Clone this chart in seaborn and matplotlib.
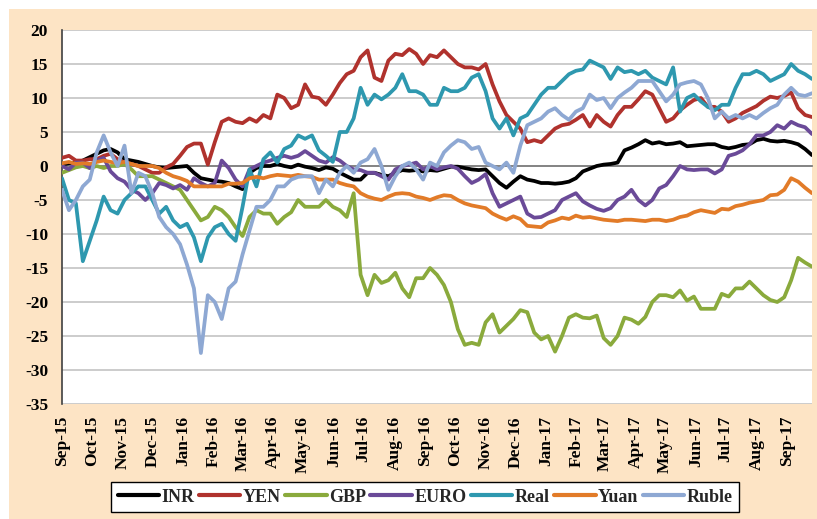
import numpy as np
import pandas as pd
import matplotlib
matplotlib.use("Agg")
import matplotlib.pyplot as plt
import matplotlib.transforms as mtransforms
from matplotlib.patches import Rectangle
from matplotlib.lines import Line2D
import seaborn as sns

# ---- data (weekly readings, Tuesdays from 1 Sep 2015 to 26 Sep 2017) ----
start_date = "2015-09-01"
series_names = ["INR", "YEN", "GBP", "EURO", "Real", "Yuan", "Ruble"]
series_colors = ["#000000", "#B0322D", "#8AAA3C", "#6A4A98", "#2E98AF", "#E27B28", "#8EA8D3"]

INR = [0.2, 0.4, 0.5, 0.8, 1.3, 1.8, 2.3, 2.5, 2, 1, 0.8, 0.6, 0.3, 0, -0.2, -0.3, -0.2, -0.1,
       0, -1, -1.8, -2, -2.2, -2.3, -2.5, -3, -3.4, -1, -0.3, 0, 0, 0.3, 0, -0.2, 0.2, -0.1,
       -0.3, -0.6, -0.2, -0.4, -1, -1.5, -2, -2, -1, -1, -1.3, -1.5, -1, -0.6, -0.7, -0.6, -0.8, -0.6,
       -0.7, -0.4, -0.1, -0.1, -0.3, -0.5, -0.6, -0.5, -1.5, -2.5, -3.2, -2.3, -1.5, -2, -2.2, -2.5, -2.5, -2.6,
       -2.5, -2.3, -1.8, -0.8, -0.4, 0, 0.2, 0.3, 0.5, 2.3, 2.7, 3.2, 3.8, 3.3, 3.5, 3.2, 3.3, 3.5,
       2.9, 3, 3.1, 3.2, 3.2, 2.8, 2.6, 2.8, 3.1, 3.2, 3.8, 4, 3.7, 3.6, 3.7, 3.5, 3.2, 2.5, 1.6]

YEN = [1.2, 1.5, 0.8, 0.8, 1, 1, 1.5, 1.8, 1, 0.5, 0.3, 0, -0.5, -1, -1, -0.2, 0.3, 1.5,
       2.8, 3.3, 3.3, 0.2, 3.5, 6.5, 7, 6.5, 6.3, 7, 6.5, 7.5, 7, 10.5, 10, 8.5, 9, 12,
       10.2, 10, 9, 10.5, 12.2, 13.5, 14, 16, 17, 13, 12.5, 15.5, 16.5, 16.3, 17.2, 16.5, 15, 16.3,
       16, 17, 16, 15, 14.5, 14.5, 14.2, 15, 12, 9.5, 7.5, 6.5, 5.5, 3.5, 3.8, 3.5, 4.5, 5.5,
       6, 6.2, 6.8, 7.5, 5.8, 7.5, 6.5, 5.8, 7.5, 8.7, 8.7, 9.8, 11, 10.5, 8.5, 6.5, 7, 8.2,
       9, 9.7, 10, 8.7, 8.7, 8, 6.5, 7, 7.8, 8.3, 8.8, 9.6, 10.2, 10, 10.3, 10.8, 8.5, 7.5, 7.2]

GBP = [-1, -0.6, -0.2, 0, -0.3, 0, -0.3, 0, 0, 0.3, -0.5, -1.5, -1.5, -1.5, -2, -2.5, -3, -3.5,
       -5, -6.5, -8, -7.5, -6, -6.5, -7.5, -9, -10.3, -7.5, -6.5, -7, -7, -8.5, -7.5, -6.8, -5, -6,
       -6, -6, -5, -6, -6.5, -7.5, -4, -16, -19, -16, -17.2, -16.8, -15.7, -18, -19.3, -16.5, -16.5, -15,
       -16, -17.5, -20, -24, -26.3, -26, -26.3, -23, -21.8, -24.5, -23.5, -22.5, -21.2, -21.5, -24.5, -25.5, -25, -27.3,
       -25, -22.3, -21.8, -22.3, -22.4, -22, -25.3, -26.3, -25, -22.3, -22.6, -23.2, -22.2, -20, -19, -19, -19.3, -18.3,
       -19.8, -19.2, -21, -21, -21, -18.8, -19.2, -18, -18, -17, -18, -19, -19.7, -20, -19.3, -16.8, -13.5, -14.2, -14.8]

EURO = [0, -0.5, 0.5, 0.5, -0.3, 0.8, 1.2, -0.8, -1.8, -2.3, -3.5, -4, -5, -4, -2.5, -2.8, -3.3, -2.8,
        -3.5, -1.8, -2.5, -3, -2.5, 0.8, -0.3, -2, -3, -0.5, 0, 0.5, 0.8, 1.2, 1.5, 1.2, 1.5, 2.2,
        1.5, 0.8, 0.5, 1.3, 0.8, 0, -0.5, -0.6, -1, -1, -1.5, -2, -0.5, 0, 0.2, 0.5, -0.5, 0,
        -0.5, -0.2, 0, -0.4, -1.5, -2.5, -2, -1.2, -4, -6, -5.5, -5, -4.5, -7, -7.6, -7.5, -7, -6.5,
        -5, -4.5, -4, -5.2, -5.8, -6.3, -6.6, -6.2, -5, -4.5, -3.5, -5, -5.8, -5, -3.3, -2.8, -1.5, 0,
        -0.5, -0.6, -0.5, -0.5, -1.1, -0.5, 1.5, 1.8, 2.3, 3.2, 4.5, 4.5, 5, 6, 5.5, 6.5, 6, 5.7, 4.7]

Real = [-1.8, -5, -5.5, -14, -11, -8, -4.5, -6.5, -7, -5, -4, -3, -3, -5, -7, -6, -8, -9,
        -8.5, -10.5, -14, -10.5, -9, -8.5, -10, -11, -6, -0.5, -3, 1, 2, 0.5, 2.5, 3, 4.5, 4,
        4.5, 2.3, 1.5, 0.6, 5, 5, 7, 11.5, 9, 10.5, 9.8, 10.5, 11.5, 13.5, 11, 11, 10.5, 9,
        9, 11.5, 11, 11, 11.5, 13, 13.5, 11, 7, 5.5, 7, 4.5, 7, 7.5, 9, 10.5, 11.5, 11.5,
        12.5, 13.5, 14, 14.2, 15.5, 15, 14.5, 12.8, 14.5, 13.8, 14, 13.5, 14, 13, 12.5, 12, 14.5, 8,
        10, 10.5, 9.5, 8.7, 8.2, 9, 9, 11.5, 13.5, 13.5, 14, 13.5, 12.5, 13, 13.5, 15, 14, 13.5, 12.8]

Yuan = [0.4, 0.6, 0.3, 0.4, 0.3, 0.6, 0.8, 0.6, 0.4, 0.6, 0.3, 0, 0, 0, -0.3, -1, -1.5, -1.8,
        -2.2, -3, -3, -3, -3, -3, -2.6, -2.6, -2.5, -1.8, -1.6, -1.8, -1.5, -1.3, -1.4, -1.5, -1.3, -1.5,
        -1.6, -2, -2, -2, -2.5, -2.8, -3, -4, -4.5, -4.8, -5, -4.5, -4.1, -4, -4.1, -4.5, -4.7, -5,
        -4.6, -4.3, -4.4, -5, -5.5, -5.8, -6, -6.2, -7, -7.5, -7.9, -7.4, -7.8, -8.8, -8.9, -9, -8.3, -8,
        -7.6, -7.8, -7.3, -7.6, -7.5, -7.7, -7.9, -8, -8.1, -7.9, -7.9, -8, -8.1, -7.9, -7.9, -8.1, -7.9, -7.5,
        -7.3, -6.8, -6.5, -6.7, -6.9, -6.3, -6.4, -5.9, -5.7, -5.4, -5.2, -5, -4.3, -4.2, -3.5, -1.8, -2.3, -3.2, -4]

Ruble = [-3.5, -6.5, -5, -3, -2, 2, 4.5, 2, 0, 3, -4, -1, -1.5, -4, -7.5, -9, -10, -11.5,
         -14.5, -18, -27.5, -19, -20, -22.5, -18, -17, -13, -9.5, -6, -6, -5, -3, -3, -2, -1.6, -1.5,
         -1.5, -4, -2, -3, -1, 0, -1, 0.5, 1, 2.5, 0, -3.5, -1.5, 0, 0.5, -0.5, -2, 0.5,
         0, 2, 3, 3.8, 3.5, 2.5, 2.8, 0.5, 0, -0.5, 0.5, -1, 3, 6, 6.5, 7, 8, 8.5,
         7.5, 6.8, 8, 8.5, 10.5, 9.7, 10, 8.5, 10, 10.8, 11.5, 12.5, 12.5, 12.5, 11, 9.5, 10.5, 12,
         12.3, 12.5, 12, 10, 7, 8, 7, 7.5, 7, 7.5, 7, 7.8, 8.5, 9, 10.5, 11.5, 10.5, 10.3, 10.7]

y_ticks = list(range(-35, 21, 5))
month_ticks = pd.date_range("2015-09-01", "2017-09-01", freq="MS")
month_labels = [d.strftime("%b-%y") for d in month_ticks]

# ---- build long table ----
values = dict(zip(series_names, [INR, YEN, GBP, EURO, Real, Yuan, Ruble]))
n = len(INR)
dates = pd.date_range(start_date, periods=n, freq="7D")
frames = []
for name in series_names:
    assert len(values[name]) == n, name
    frames.append(pd.DataFrame({"date": dates, "value": values[name], "series": name}))
df = pd.concat(frames, ignore_index=True)

# ---- figure ----
sns.set_style("white")
plt.rcParams["font.family"] = ["Liberation Serif", "DejaVu Serif"]
plt.rcParams["font.weight"] = "bold"

W, H = 817, 519
fig = plt.figure(figsize=(W / 100, H / 100), dpi=100, facecolor="white")
peach = "#FDE4C5"
fig.patches.append(Rectangle((9 / W, 0), 1 - 9 / W, 1 - 9 / H, transform=fig.transFigure,
                             facecolor=peach, edgecolor="none", zorder=-10))

ax = fig.add_axes([62 / W, 1 - 404 / H, (812 - 62) / W, (404 - 30) / H])
ax.set_zorder(1)
ax.set_facecolor("white")

palette = dict(zip(series_names, series_colors))
sns.lineplot(data=df, x="date", y="value", hue="series", hue_order=series_names,
             palette=palette, linewidth=2.7, ax=ax, legend=False, zorder=3)

ax.set_ylim(-35, 20)
ax.set_xlim(dates[0], dates[-1])
ax.set_yticks(y_ticks)
ax.set_yticklabels([str(v) for v in y_ticks], fontsize=12.5, fontweight="bold")
ax.yaxis.grid(True, color="#C3C3C3", linewidth=1.2)
ax.xaxis.grid(False)
ax.set_axisbelow(True)
ax.set_xlabel("")
ax.set_ylabel("")

for s in ["top", "right"]:
    ax.spines[s].set_visible(False)
ax.spines["left"].set_color("#404040")
ax.spines["left"].set_linewidth(1.2)
ax.spines["bottom"].set_position(("data", 0))
ax.spines["bottom"].set_color("#7F7F7F")
ax.spines["bottom"].set_linewidth(1.3)
ax.spines["bottom"].set_zorder(2.5)

ax.set_xticks(month_ticks)
ax.tick_params(axis="x", direction="out", length=5, width=1.2, color="#7F7F7F",
               labelbottom=False)
ax.tick_params(axis="y", direction="out", length=6, width=1.2, color="#404040",
               pad=4, labelcolor="black")

trans = mtransforms.blended_transform_factory(ax.transData, ax.transAxes)
for d, lab in zip(month_ticks, month_labels):
    ax.text(d, -12 / 374, lab, transform=trans, rotation=90, ha="center", va="top",
            fontsize=12.5, fontweight="bold", color="black", clip_on=False)

handles = [Line2D([0], [0], color=c, linewidth=3) for c in series_colors]
leg = fig.legend(handles, series_names, loc="center", ncol=7,
                 bbox_to_anchor=(425 / W, 1 - 497 / H), frameon=True, fancybox=False,
                 edgecolor="black", facecolor="white", framealpha=1,
                 prop={"family": "Liberation Serif", "weight": "bold", "size": 13},
                 handlelength=2.3, handletextpad=0.12, columnspacing=0.25,
                 borderpad=0.35)
leg.get_frame().set_linewidth(1.0)
leg.set_zorder(5)

fig.savefig("out.png", dpi=100, facecolor="white")
